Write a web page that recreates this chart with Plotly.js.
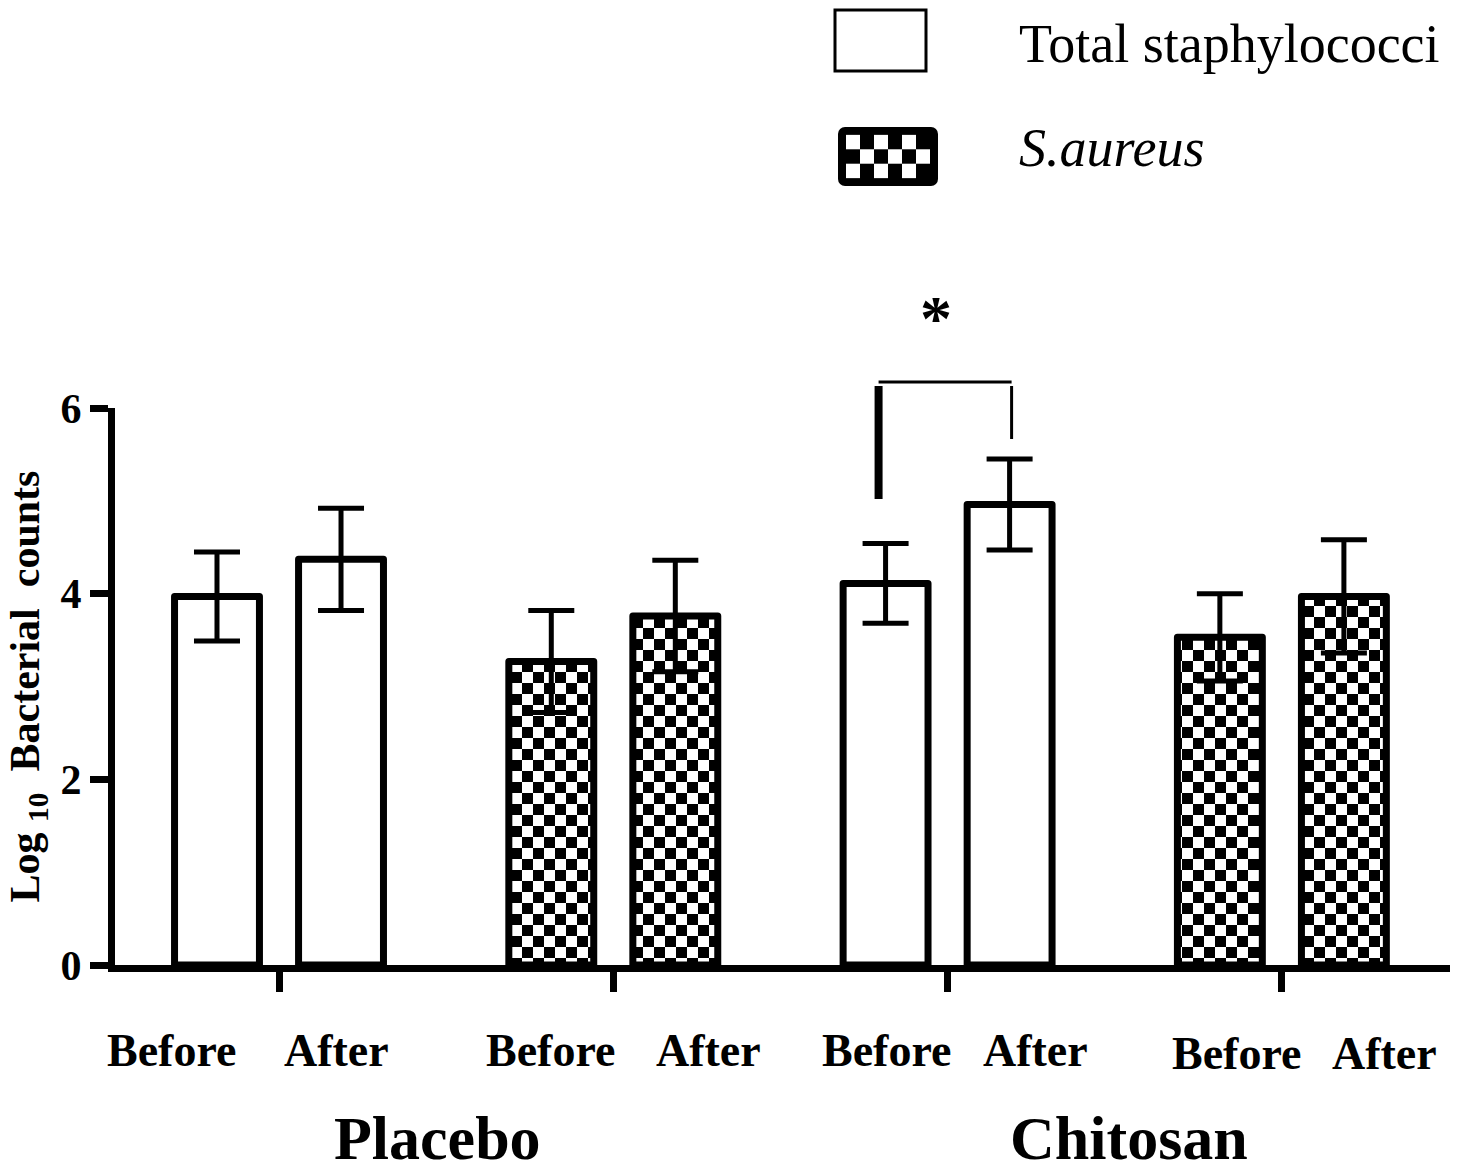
<!DOCTYPE html>
<html>
<head>
<meta charset="utf-8">
<script src="https://cdn.plot.ly/plotly-3.0.1.min.js"></script>
<style>
  html, body { margin: 0; padding: 0; background: #ffffff; }
  #chart { width: 1461px; height: 1164px; }
</style>
</head>
<body>
<div id="chart"></div>
<script>
// ---------------- DATA ----------------
const treatments = ['Placebo', 'Chitosan'];
const timepoints = ['Before', 'After'];
const seriesNames = ['Total staphylococci', 'S.aureus'];
// order: Placebo Before, Placebo After, Chitosan Before, Chitosan After
const totalStaphMean = [3.97, 4.37, 4.11, 4.96];
const totalStaphErr  = [0.48, 0.55, 0.43, 0.49];
const sAureusMean    = [3.27, 3.76, 3.53, 3.97];
const sAureusErr     = [0.55, 0.60, 0.47, 0.61];
const yTickVals = [0, 2, 4, 6];
const yTitle = 'Log <sub>10</sub>  Bacterial  counts';
const sigMark = '*';

// ---------------- LAYOUT HELPERS ----------------
const W = 1461, H = 1164;
const L = 115, R = 1450, T = 408, B = 965;
const px2x = p => (p - L) / (R - L);
const px2y = p => (B - p) / (B - T);
const unitPx = 334.3;        // pixels per group on the x axis
const FONT = 'Liberation Serif, Times New Roman, serif';
const halfGap = 0.1855;      // bar offset from group centre (axis units)
const barW = 0.254;          // bar width (axis units)
const xRange = [-0.4906, 3.5029];

function slotOf(treatIdx, seriesIdx) { return treatIdx * 2 + seriesIdx; }
function barX(treatIdx, seriesIdx, timeIdx) {
  return slotOf(treatIdx, seriesIdx) + (timeIdx === 0 ? -halfGap : halfGap);
}

const seriesMeans = [totalStaphMean, sAureusMean];
const seriesErrs = [totalStaphErr, sAureusErr];

const traces = seriesNames.map((name, s) => {
  const xs = [], ys = [], es = [];
  treatments.forEach((t, ti) => {
    timepoints.forEach((tp, pi) => {
      xs.push(barX(ti, s, pi));
      ys.push(seriesMeans[s][ti * 2 + pi]);
      es.push(seriesErrs[s][ti * 2 + pi]);
    });
  });
  return {
    type: 'bar', name: name, x: xs, y: ys, width: barW,
    marker: { color: '#ffffff', line: { color: '#000000', width: 7 } },
    error_y: { type: 'data', array: es, visible: true, color: '#000000', thickness: 5, width: 23 },
    showlegend: false, hoverinfo: 'skip'
  };
});

// ---------------- ANNOTATIONS ----------------
const annotations = [];
const beforeShift = [-45, -1, 1, 17];
const afterShift = [-5, 33, 26, 41];
let k = 0;
treatments.forEach((t, ti) => {
  seriesNames.forEach((sn, s) => {
    timepoints.forEach((tp, pi) => {
      annotations.push({
        text: tp, xref: 'x', yref: 'paper', x: barX(ti, s, pi), y: px2y(1050 + (k === 3 ? 3 : 0)),
        xshift: pi === 0 ? beforeShift[k] : afterShift[k],
        showarrow: false, xanchor: 'center', yanchor: 'middle',
        font: { family: FONT, size: 46, color: '#000', weight: 'bold' }
      });
    });
    k++;
  });
});
const treatShift = [-9, 14];
treatments.forEach((t, ti) => {
  annotations.push({
    text: t, xref: 'x', yref: 'paper', x: slotOf(ti, 0) + 0.5, y: px2y(1138),
    xshift: treatShift[ti], showarrow: false, xanchor: 'center', yanchor: 'middle',
    font: { family: FONT, size: 62, color: '#000', weight: 'bold' }
  });
});
// legend texts
annotations.push({
  text: seriesNames[0], xref: 'paper', yref: 'paper', x: px2x(1017), y: px2y(44),
  showarrow: false, xanchor: 'left', yanchor: 'middle',
  font: { family: FONT, size: 54, color: '#000' }
});
annotations.push({
  text: '<i>' + seriesNames[1] + '</i>', xref: 'paper', yref: 'paper', x: px2x(1017), y: px2y(148),
  showarrow: false, xanchor: 'left', yanchor: 'middle',
  font: { family: FONT, size: 54, color: '#000' }
});
// significance bracket ends (slightly outside the bar centres, as in the figure)
const sigLeft = barX(1, 0, 0) - 7 / unitPx, sigRight = barX(1, 0, 1) + 2 / unitPx;
annotations.push({
  text: sigMark, xref: 'x', yref: 'paper', x: (sigLeft + sigRight) / 2, y: px2y(318), xshift: -9,
  showarrow: false, xanchor: 'center', yanchor: 'middle',
  font: { family: FONT, size: 64, color: '#000', weight: 'bold' }
});

// ---------------- SHAPES ----------------
const shapes = [
  // legend box for total staphylococci
  { type: 'rect', xref: 'paper', yref: 'paper', x0: px2x(835), x1: px2x(926), y0: px2y(71), y1: px2y(10),
    line: { color: '#000', width: 3 }, fillcolor: '#fff' },
  // significance bracket
  { type: 'line', xref: 'x', yref: 'paper', x0: sigLeft, x1: sigRight, y0: px2y(382), y1: px2y(382),
    line: { color: '#000', width: 3 } },
  { type: 'line', xref: 'x', yref: 'paper', x0: sigLeft, x1: sigLeft, y0: px2y(386), y1: px2y(499),
    line: { color: '#000', width: 8 } },
  { type: 'line', xref: 'x', yref: 'paper', x0: sigRight, x1: sigRight, y0: px2y(386), y1: px2y(439),
    line: { color: '#000', width: 3 } }
];

// legend checker swatch as an image
function checkerSwatch() {
  let s = '<svg xmlns="http://www.w3.org/2000/svg" width="100" height="60" viewBox="0 0 100 60">';
  s += '<rect x="0" y="0" width="100" height="60" rx="7" ry="7" fill="#000"/>';
  const cw = 84 / 6, ch = 44 / 3;
  for (let r = 0; r < 3; r++) for (let c = 0; c < 6; c++) {
    if ((r + c) % 2 === 0) s += '<rect x="' + (8 + c * cw) + '" y="' + (8 + r * ch) + '" width="' + cw + '" height="' + ch + '" fill="#fff"/>';
  }
  s += '</svg>';
  return 'data:image/svg+xml;charset=utf-8,' + encodeURIComponent(s);
}
const images = [{
  source: checkerSwatch(), xref: 'paper', yref: 'paper',
  x: px2x(838), y: px2y(127), sizex: px2x(938) - px2x(838), sizey: (186 - 127) / (B - T),
  xanchor: 'left', yanchor: 'top', sizing: 'stretch', layer: 'above'
}];

const layout = {
  width: W, height: H,
  margin: { l: L, r: W - R, t: T, b: H - B, pad: 0 },
  paper_bgcolor: '#ffffff', plot_bgcolor: '#ffffff',
  barmode: 'overlay',
  showlegend: false,
  font: { family: FONT, color: '#000' },
  xaxis: {
    range: xRange, tickvals: [0, 1, 2, 3], showticklabels: false,
    ticks: 'outside', ticklen: 20, tickwidth: 7, tickcolor: '#000',
    showline: true, linewidth: 7, linecolor: '#000',
    showgrid: false, zeroline: false, fixedrange: true
  },
  yaxis: {
    range: [0, 6], tickvals: yTickVals, ticktext: yTickVals.map(String),
    ticks: 'outside', ticklen: 18, tickwidth: 7, tickcolor: '#000',
    showline: true, linewidth: 7, linecolor: '#000',
    showgrid: false, zeroline: false, fixedrange: true,
    tickfont: { family: FONT, size: 42, color: '#000', weight: 'bold' },
    title: { text: yTitle, standoff: 10, font: { family: FONT, size: 42, color: '#000', weight: 'bold' } }
  },
  annotations: annotations,
  shapes: shapes,
  images: images
};

Plotly.newPlot('chart', traces, layout, { staticPlot: true, displayModeBar: false }).then(gd => {
  const svg = gd.querySelector('svg.main-svg');
  const NS = 'http://www.w3.org/2000/svg';
  let defs = svg.querySelector('defs');
  if (!defs) { defs = document.createElementNS(NS, 'defs'); svg.insertBefore(defs, svg.firstChild); }
  const cell = 11;
  const pat = document.createElementNS(NS, 'pattern');
  pat.setAttribute('id', 'checkerFill');
  pat.setAttribute('patternUnits', 'userSpaceOnUse');
  pat.setAttribute('width', 2 * cell);
  pat.setAttribute('height', 2 * cell);
  const bg = document.createElementNS(NS, 'rect');
  bg.setAttribute('width', 2 * cell); bg.setAttribute('height', 2 * cell); bg.setAttribute('fill', '#fff');
  pat.appendChild(bg);
  [[0, 0], [cell, cell]].forEach(([x, y]) => {
    const r = document.createElementNS(NS, 'rect');
    r.setAttribute('x', x); r.setAttribute('y', y);
    r.setAttribute('width', cell); r.setAttribute('height', cell); r.setAttribute('fill', '#000');
    pat.appendChild(r);
  });
  defs.appendChild(pat);
  const traceGroups = gd.querySelectorAll('.barlayer .trace');
  traceGroups.forEach((g, i) => {
    g.querySelectorAll('path').forEach(p => {
      p.style.strokeLinejoin = 'round';
      if (i === 1) p.style.fill = 'url(#checkerFill)';
    });
  });
});
</script>
</body>
</html>
